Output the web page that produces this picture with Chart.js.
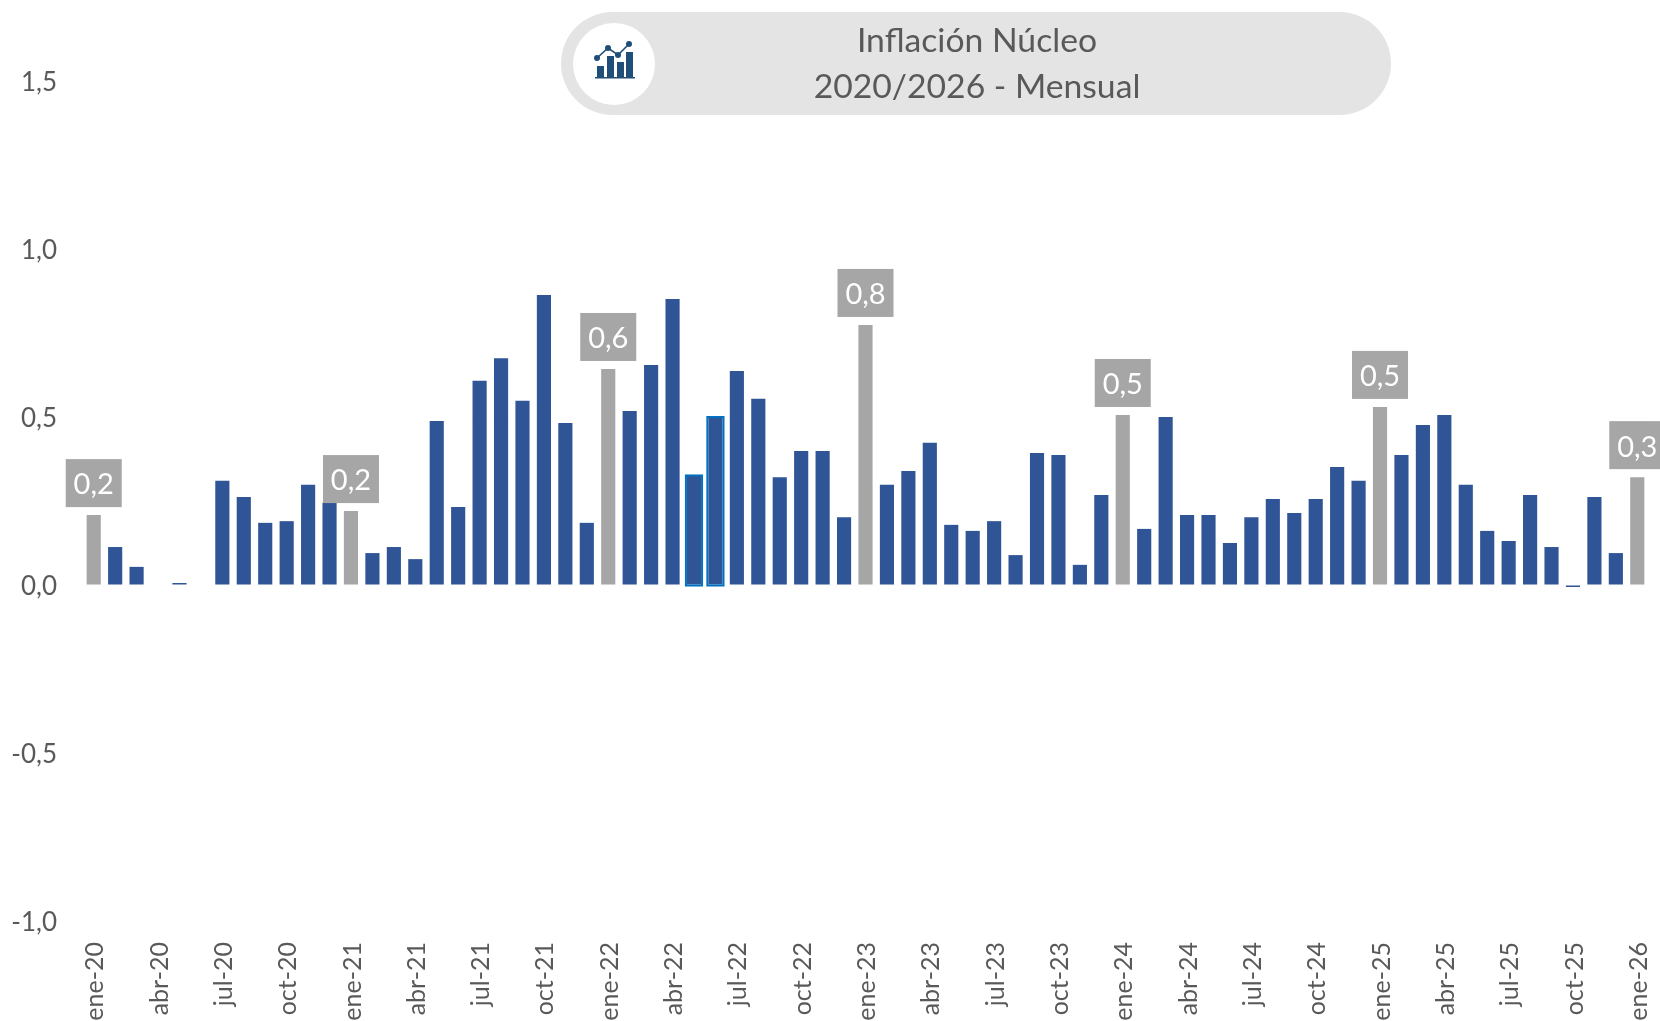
<!DOCTYPE html>
<html>
<head>
<meta charset="utf-8">
<title>Inflación Núcleo</title>
<script src="https://cdn.jsdelivr.net/npm/chart.js@4"></script>
<style>
  html, body { margin: 0; padding: 0; background: #fff; }
  #wrap { position: relative; width: 1660px; height: 1021px; overflow: hidden; }
  #pill {
    position: absolute; left: 561px; top: 12px; width: 830px; height: 103px;
    background: #e4e4e4; border-radius: 52px;
    color: #595959; font-family: Lato, sans-serif; font-size: 33.7px;
    text-align: center; line-height: 46px;
  }
  #pill .txt { position: absolute; left: 0; top: 4px; width: 832px; }
  #pill .circle {
    position: absolute; left: 12px; top: 11px; width: 82px; height: 82px;
    background: #fff; border-radius: 50%;
  }
  #pill svg { position: absolute; left: 21px; top: 18px; }
</style>
</head>
<body>
<div id="wrap">
  <canvas id="myChart" width="1660" height="1021"></canvas>
  <div id="pill">
    <div class="circle">
      <svg width="42" height="40" viewBox="0 0 42 40">
        <g fill="#1f4e79">
          <rect x="3" y="25" width="7" height="11"/>
          <rect x="13" y="15" width="7" height="21"/>
          <rect x="23" y="21" width="7" height="15"/>
          <rect x="32" y="11" width="7" height="25"/>
          <rect x="1" y="36" width="40" height="1.5"/>
          <circle cx="3" cy="17" r="3"/>
          <circle cx="14" cy="7" r="3"/>
          <circle cx="24" cy="14" r="3"/>
          <circle cx="35" cy="3" r="3"/>
        </g>
        <polyline points="3,17 14,7 24,14 35,3" fill="none" stroke="#1f4e79" stroke-width="1.6"/>
      </svg>
    </div>
    <div class="txt">Inflación Núcleo<br>2020/2026 - Mensual</div>
  </div>
</div>
<script>
//chart data
const categories = [
  "ene-20", "feb-20", "mar-20", "abr-20", "may-20", "jun-20", "jul-20", "ago-20", "sep-20", "oct-20", "nov-20", "dic-20",
  "ene-21", "feb-21", "mar-21", "abr-21", "may-21", "jun-21", "jul-21", "ago-21", "sep-21", "oct-21", "nov-21", "dic-21",
  "ene-22", "feb-22", "mar-22", "abr-22", "may-22", "jun-22", "jul-22", "ago-22", "sep-22", "oct-22", "nov-22", "dic-22",
  "ene-23", "feb-23", "mar-23", "abr-23", "may-23", "jun-23", "jul-23", "ago-23", "sep-23", "oct-23", "nov-23", "dic-23",
  "ene-24", "feb-24", "mar-24", "abr-24", "may-24", "jun-24", "jul-24", "ago-24", "sep-24", "oct-24", "nov-24", "dic-24",
  "ene-25", "feb-25", "mar-25", "abr-25", "may-25", "jun-25", "jul-25", "ago-25", "sep-25", "oct-25", "nov-25", "dic-25",
  "ene-26",
];
const values = [
  0.208, 0.113, 0.054, 0, 0.006, 0, 0.31, 0.262, 0.185, 0.19, 0.298, 0.245,
  0.22, 0.095, 0.113, 0.077, 0.488, 0.232, 0.608, 0.675, 0.548, 0.863, 0.482, 0.185,
  0.643, 0.518, 0.655, 0.851, 0.326, 0.5, 0.637, 0.554, 0.321, 0.399, 0.399, 0.202,
  0.774, 0.298, 0.339, 0.423, 0.179, 0.161, 0.19, 0.089, 0.393, 0.387, 0.06, 0.268,
  0.506, 0.167, 0.5, 0.208, 0.208, 0.125, 0.202, 0.256, 0.214, 0.256, 0.351, 0.31,
  0.53, 0.387, 0.476, 0.506, 0.298, 0.161, 0.131, 0.268, 0.113, -0.006, 0.262, 0.095,
  0.321,
];
const labelledMonths = ["ene-20", "ene-21", "ene-22", "ene-23", "ene-24", "ene-25", "ene-26"];
const outlinedMonths = ["may-22", "jun-22"];

const fmt = (v) => v.toFixed(1).replace(".", ",");

//gray value boxes above the january bars, blue outline on two bars
const barExtras = {
  id: "barExtras",
  afterDatasetsDraw(chart) {
    const ctx = chart.ctx;
    const bars = chart.getDatasetMeta(0).data;
    ctx.save();
    outlinedMonths.forEach((m) => {
      const el = bars[categories.indexOf(m)];
      ctx.strokeStyle = "#0070c0";
      ctx.lineWidth = 2;
      ctx.strokeRect(el.x - el.width / 2 - 1, el.y, el.width + 2, el.base - el.y + 1);
    });
    labelledMonths.forEach((m) => {
      const i = categories.indexOf(m);
      const el = bars[i];
      ctx.fillStyle = "#a6a6a6";
      ctx.fillRect(el.x - 28, el.y - 56, 56, 48);
      ctx.fillStyle = "#ffffff";
      ctx.font = "29px Lato, sans-serif";
      ctx.textAlign = "center";
      ctx.textBaseline = "middle";
      ctx.fillText(fmt(values[i]), el.x, el.y - 30);
    });
    ctx.restore();
  },
};

const myChart = new Chart(document.getElementById("myChart"), {
  type: "bar",
  data: {
    labels: categories,
    datasets: [
      {
        data: values,
        backgroundColor: categories.map((m) => (labelledMonths.includes(m) ? "#a6a6a6" : "#2f5597")),
        barPercentage: 1,
        categoryPercentage: 0.66,
      },
    ],
  },
  options: {
    responsive: false,
    animation: false,
    layout: { padding: { top: 81, right: 12 } },
    plugins: { legend: { display: false }, tooltip: { enabled: false } },
    scales: {
      x: {
        grid: { display: false },
        border: { display: false },
        afterFit: (scale) => {
          scale.height = 100;
          scale.paddingLeft = 0;
          scale.paddingRight = 0;
        },
        ticks: {
          autoSkip: false,
          minRotation: 90,
          maxRotation: 90,
          padding: 13,
          labelOffset: 1.5,
          color: "#595959",
          font: { family: "Lato", size: 25 },
          callback: (v, i) => (i % 3 === 0 ? categories[i] : ""),
        },
      },
      y: {
        min: -1,
        max: 1.5,
        grid: { color: "#fdfdfd", drawTicks: false },
        border: { display: false },
        afterFit: (scale) => { scale.width = 83; },
        ticks: {
          stepSize: 0.5,
          padding: 26,
          labelOffset: 2,
          color: "#595959",
          font: { family: "Lato", size: 26 },
          callback: (v) => fmt(v),
        },
      },
    },
  },
  plugins: [barExtras],
});
</script>
</body>
</html>
